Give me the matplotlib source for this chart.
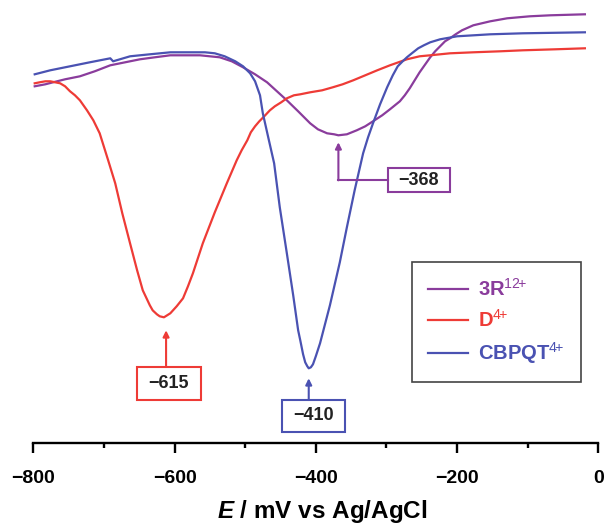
import matplotlib
matplotlib.use("Agg")
import matplotlib.pyplot as plt
from matplotlib.patches import Rectangle
from matplotlib.ticker import MultipleLocator

plt.rcParams['font.family'] = ['Liberation Sans', 'DejaVu Sans']
plt.rcParams['mathtext.fontset'] = 'custom'
plt.rcParams['mathtext.rm'] = 'Liberation Sans'
plt.rcParams['mathtext.it'] = 'Liberation Sans:italic:bold'
plt.rcParams['mathtext.bf'] = 'Liberation Sans:bold'

# ---- data (E in mV vs Ag/AgCl, current in arbitrary units) ----
E_cbpqt = [-798, -776, -748, -720, -691, -687, -663, -635, -606, -578, -557, -543,
           -529, -514, -503, -493, -486, -479, -475, -468, -459, -451, -441, -432,
           -425, -422, -418, -415, -412, -410, -407, -404, -400, -394, -380, -366,
           -356, -345, -333, -326, -319, -309, -299, -291, -284, -277, -271, -264,
           -255, -247, -238, -224, -200, -153, -107, -19]
I_cbpqt = [36.9, 37.3, 37.7, 38.1, 38.5, 38.2, 38.7, 38.9, 39.1, 39.1, 39.1, 39.0,
           38.7, 38.2, 37.7, 37.0, 36.2, 34.8, 33.0, 30.8, 28.0, 23.6, 19.0, 14.8,
           11.3, 10.3, 8.9, 8.1, 7.7, 7.5, 7.6, 7.9, 8.7, 10.0, 13.8, 18.1,
           21.6, 25.3, 29.0, 30.6, 32.0, 33.9, 35.6, 36.8, 37.7, 38.2, 38.6, 39.0,
           39.5, 39.8, 40.1, 40.4, 40.7, 40.9, 41.0, 41.1]

E_3r = [-798, -783, -772, -755, -734, -713, -691, -670, -649, -628, -606, -564,
        -536, -519, -503, -486, -469, -455, -441, -425, -408, -397, -384, -374,
        -368, -356, -342, -330, -319, -306, -295, -288, -281, -274, -267, -260,
        -253, -245, -238, -231, -224, -217, -210, -202, -193, -177, -153, -129,
        -97, -68, -19]
I_3r = [35.7, 35.9, 36.1, 36.4, 36.7, 37.2, 37.8, 38.1, 38.4, 38.6, 38.8, 38.8,
        38.6, 38.2, 37.6, 36.9, 36.1, 35.2, 34.3, 33.2, 32.0, 31.4, 31.0, 30.9,
        30.8, 30.9, 31.3, 31.7, 32.2, 32.8, 33.4, 33.8, 34.2, 34.8, 35.5, 36.3,
        37.1, 37.9, 38.6, 39.2, 39.7, 40.2, 40.5, 40.9, 41.3, 41.8, 42.2, 42.5,
        42.7, 42.8, 42.9]

E_d = [-798, -791, -783, -776, -769, -762, -755, -748, -741, -734, -724, -715,
       -706, -694, -684, -674, -663, -653, -645, -639, -635, -631, -625, -621,
       -615, -606, -597, -588, -581, -574, -567, -560, -543,
       -526, -512, -505, -497, -492, -486, -480, -473, -465, -458, -449, -441,
       -431, -422, -408, -391, -376, -362, -347, -330, -313, -295, -271, -253,
       -238, -210, -177, -139, -107, -61, -19]
I_d = [36.0, 36.1, 36.2, 36.2, 36.1, 36.0, 35.7, 35.2, 34.8, 34.3, 33.3, 32.3,
       31.0, 28.3, 26.0, 23.0, 20.0, 17.3, 15.3, 14.4, 13.8, 13.3, 12.9, 12.7,
       12.6, 13.0, 13.7, 14.5, 15.7, 17.0, 18.5, 20.0, 23.1,
       26.0, 28.3, 29.3, 30.3, 31.1, 31.7, 32.2, 32.7, 33.3, 33.7, 34.1, 34.5,
       34.8, 34.9, 35.1, 35.3, 35.6, 35.9, 36.3, 36.8, 37.3, 37.8, 38.4, 38.7,
       38.8, 39.0, 39.1, 39.2, 39.3, 39.4, 39.5]

labels = [r'3R$^{\mathrm{12}\!\mathrm{+}}$', r'D$^{\mathrm{4}\!\mathrm{+}}$',
          r'CBPQT$^{\mathrm{4}\!\mathrm{+}}$']
peak_labels = ['\u2212368', '\u2212615', '\u2212410']

c_purple = '#8A3C9C'
c_red = '#EE3B36'
c_blue = '#4A52B2'

fig = plt.figure(figsize=(6.05, 5.25), dpi=100)
ax = fig.add_axes([33.3/605, 81.7/525, 565.0/605, 443.3/525])

l1, = ax.plot(E_3r, I_3r, color=c_purple, lw=1.6, label=labels[0])
l2, = ax.plot(E_d, I_d, color=c_red, lw=1.6, label=labels[1])
l3, = ax.plot(E_cbpqt, I_cbpqt, color=c_blue, lw=1.6, label=labels[2])

ax.set_xlim(-800, 0)
ax.set_ylim(0, 44.33)
for s in ['top', 'right', 'left']:
    ax.spines[s].set_visible(False)
ax.spines['bottom'].set_linewidth(1.7)
ax.set_yticks([])
ax.xaxis.set_major_locator(MultipleLocator(200))
ax.xaxis.set_minor_locator(MultipleLocator(100))
ax.tick_params(axis='x', which='major', length=7, width=1.7, direction='out', pad=12,
               labelsize=14)
ax.tick_params(axis='x', which='minor', length=3.5, width=1.7, direction='out')
for t in ax.get_xticklabels():
    t.set_fontweight('bold')
ax.set_xlabel(r'$\mathit{E}$ / mV vs Ag/AgCl', fontsize=17.5,
              fontweight='bold')
ax.xaxis.set_label_coords(0.511, -0.1234)

# annotation boxes
def box(x0, x1, y0, y1, text, color):
    ax.add_patch(Rectangle((x0, y0), x1 - x0, y1 - y0, fill=False,
                           edgecolor=color, lw=1.5, clip_on=False))
    ax.text((x0 + x1) / 2, (y0 + y1) / 2, text, ha='center', va='center',
            fontsize=13, fontweight='bold', color='#222222')

arrow_kw = dict(arrowstyle='-|>', mutation_scale=9, lw=1.5, shrinkA=0, shrinkB=0)

# -615 (D4+)
box(-653, -563, 4.33, 7.63, peak_labels[1], c_red)
ax.annotate('', xy=(-612, 11.3), xytext=(-612, 7.63),
            arrowprops=dict(color=c_red, **arrow_kw))
# -410 (CBPQT4+)
box(-448, -359, 1.13, 4.33, peak_labels[2], c_blue)
ax.annotate('', xy=(-410, 6.5), xytext=(-410, 4.33),
            arrowprops=dict(color=c_blue, **arrow_kw))
# -368 (3R12+)
box(-298, -210, 25.1, 27.5, peak_labels[0], c_purple)
ax.plot([-298, -368], [26.3, 26.3], color=c_purple, lw=1.5)
ax.annotate('', xy=(-368, 30.1), xytext=(-368, 26.3),
            arrowprops=dict(color=c_purple, **arrow_kw))

leg = ax.legend(handles=[l1, l2, l3], loc='upper left',
                bbox_to_anchor=(412/605, 1 - 262/525), bbox_transform=fig.transFigure,
                borderaxespad=0, fancybox=False, edgecolor='#444444',
                prop={'size': 14.5, 'weight': 'bold'}, handlelength=2.0,
                handletextpad=0.5, labelspacing=0.45, borderpad=0.8,
                framealpha=1)
leg.get_frame().set_linewidth(1.2)
for txt, col in zip(leg.get_texts(), [c_purple, c_red, c_blue]):
    txt.set_color(col)

fig.savefig('out.png', dpi=100)
